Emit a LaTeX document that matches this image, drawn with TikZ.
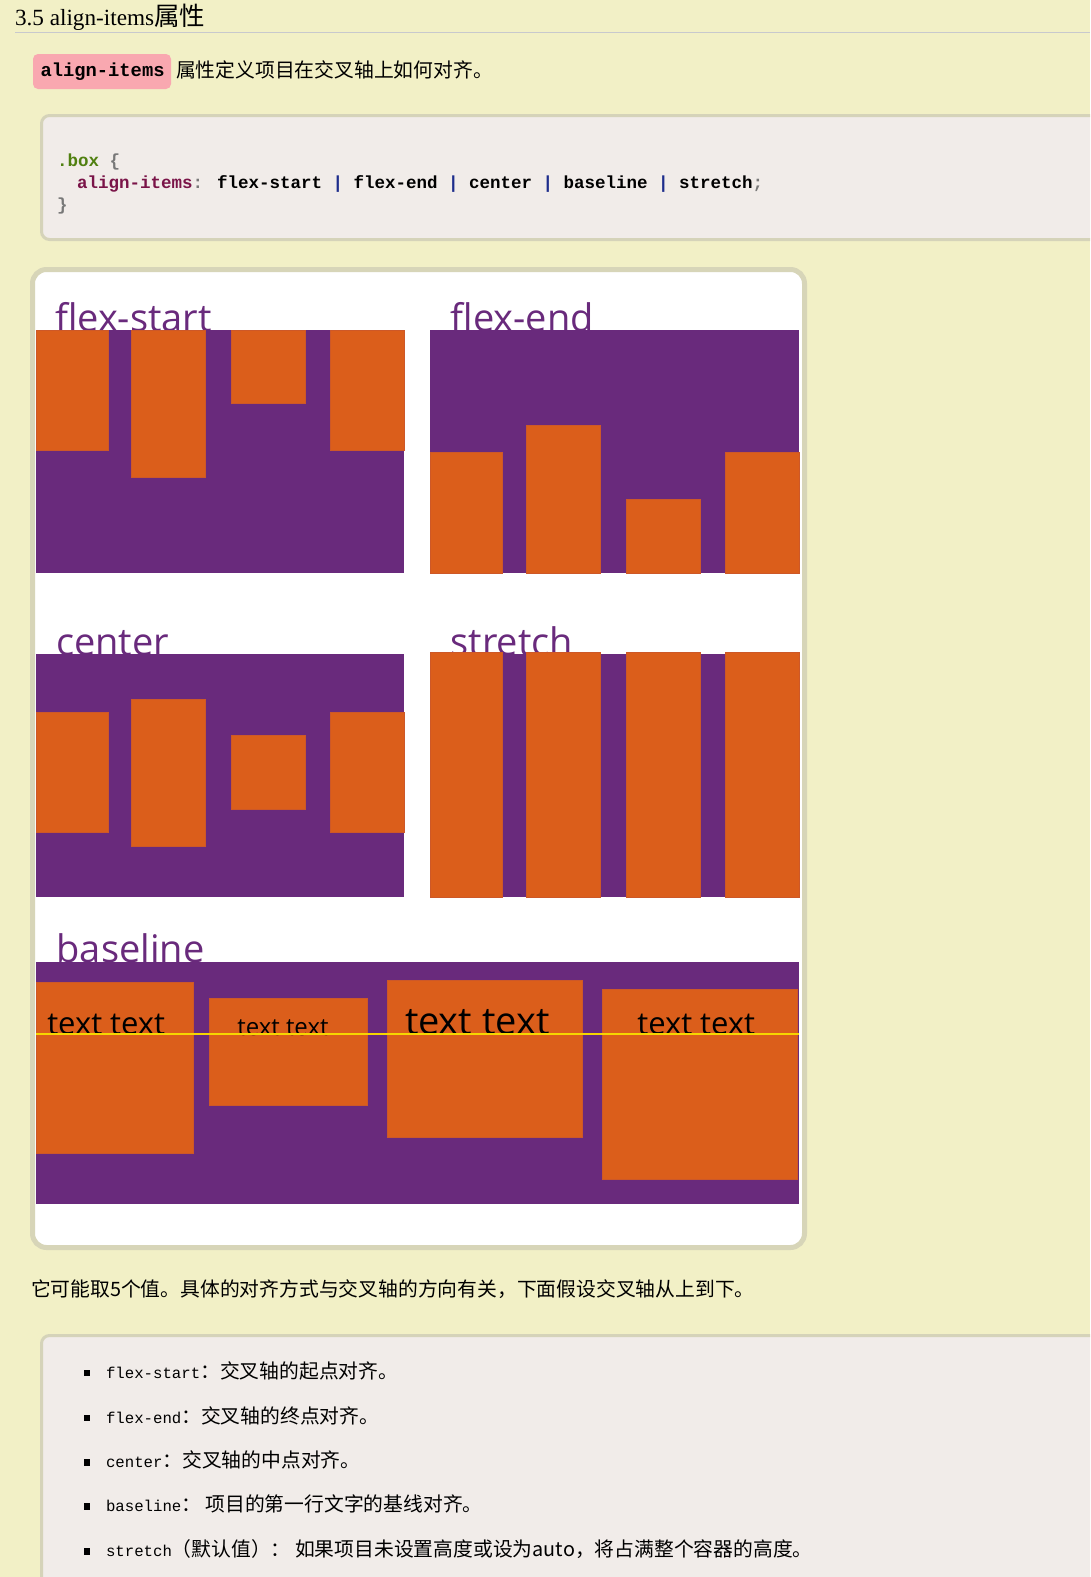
\documentclass[tikz,border=0pt]{standalone}
\usepackage{fontspec}
\setmainfont{Liberation Serif}
\newfontfamily\cjk{Noto Sans CJK SC}
\newfontfamily\lblf{Open Sans}
\newfontfamily\monof{Liberation Mono}
\definecolor{bg}{RGB}{242,240,198}
\definecolor{hline}{RGB}{200,201,205}
\definecolor{badge}{RGB}{249,168,176}
\definecolor{codefill}{RGB}{241,236,233}
\definecolor{codeborder}{RGB}{213,211,185}
\definecolor{panelborder}{RGB}{215,213,184}
\definecolor{fpurple}{RGB}{105,42,124}
\definecolor{forange}{RGB}{219,94,27}
\definecolor{oedge}{RGB}{205,88,40}
\definecolor{ylw}{RGB}{246,214,0}
\definecolor{cgreen}{RGB}{80,128,16}
\definecolor{cmag}{RGB}{122,20,72}
\definecolor{cblue}{RGB}{30,45,140}
\definecolor{cgray}{RGB}{120,120,120}
\tikzset{
  txt/.style={inner sep=0pt, outer sep=0pt, anchor=base west},
  cont/.style={fill=fpurple},
  item/.style={fill=forange, draw=oedge, line width=0.6pt},
  lbl/.style={txt, text=fpurple, font=\lblf\fontsize{38}{44}\selectfont},
  bullet/.style={fill=black},
}
\begin{document}
\begin{tikzpicture}[x=1pt,y=-1pt]
\useasboundingbox (0,0) rectangle (1090,1577);
\clip (0,0) rectangle (1090,1577);
\fill[bg] (0,0) rectangle (1090,1577);

% header
\node[txt] (title) at (15,25) {\fontsize{23.2}{27}\selectfont 3.5 align-items{\cjk\fontsize{25.5}{28}\selectfont 属性}};
\draw[hline, line width=1pt] (15,32.5) -- (1090,32.5);

% intro line
\fill[badge, rounded corners=5pt] (33,54) rectangle (171,89);
\node[txt] (badgetxt) at (40.5,76) {\monof\bfseries\fontsize{18.8}{22}\selectfont align-items};
\node[txt] (intro) at (176,77) {\cjk\fontsize{19.8}{22}\selectfont 属性定义项目在交叉轴上如何对齐。};

% code block
\draw[codeborder, fill=codefill, line width=3pt, rounded corners=8pt] (41.5,115.5) rectangle (1120,239.5);
\node[txt] (code1) at (57,166) {\monof\bfseries\fontsize{17.5}{22}\selectfont\textcolor{cgreen}{.box} \textcolor{cgray}{\{}};
\node[txt] (code2) at (77,188) {\monof\bfseries\fontsize{17.5}{22}\selectfont\textcolor{cmag}{align-items}\textcolor{cgray}{:} flex-start \textcolor{cblue}{|} flex-end \textcolor{cblue}{|} center \textcolor{cblue}{|} baseline \textcolor{cblue}{|} stretch\textcolor{cgray}{;}};
\node[txt] (code3) at (57,210) {\monof\bfseries\fontsize{17.5}{22}\selectfont\textcolor{cgray}{\}}};

% illustration panel
\draw[panelborder, fill=white, line width=5pt, rounded corners=14pt] (32.5,269.5) rectangle (804.5,1247.5);

% flex-start
\node[lbl] (lfs) at (55,331) {flex-start};
\fill[cont] (36,330) rectangle (404,573);
\draw[item] (36,330) rectangle (108,450);
\draw[item] (131.7,330) rectangle (205,477);
\draw[item] (231.7,330) rectangle (305,403);
\draw[item] (330.7,330) rectangle (404,450);

% flex-end
\node[lbl] (lfe) at (450.7,331) {flex-end};
\fill[cont] (430,330) rectangle (799.3,573);
\draw[item] (430,452.7) rectangle (502.7,573);
\draw[item] (526.7,425.3) rectangle (600,573);
\draw[item] (626.7,499.3) rectangle (700,573);
\draw[item] (725.7,452.7) rectangle (799.3,573);

% center
\node[lbl] (lce) at (56,655) {center};
\fill[cont] (36,654.3) rectangle (404,897);
\draw[item] (36,712.7) rectangle (108,832.3);
\draw[item] (131.7,699) rectangle (205,846);
\draw[item] (231.7,735.7) rectangle (305,809);
\draw[item] (330.7,712.7) rectangle (404,832.3);

% stretch
\node[lbl] (lst) at (450.7,655) {stretch};
\fill[cont] (430,654.3) rectangle (799.3,897);
\draw[item] (430,652.3) rectangle (502.7,897);
\draw[item] (526.7,652.3) rectangle (600,897);
\draw[item] (626.7,652.3) rectangle (700,897);
\draw[item] (725.7,652.3) rectangle (799.3,897);

% baseline
\node[lbl] (lba) at (56.7,962) {baseline};
\fill[cont] (36,961.7) rectangle (799,1204.3);
\draw[item] (36,982.7) rectangle (193.3,1153.3);
\draw[item] (209,998) rectangle (367,1105.3);
\draw[item] (387.3,980.3) rectangle (582.3,1137.3);
\draw[item] (602.3,989.3) rectangle (797.3,1179.3);
\node[txt] (t1) at (47.3,1034) {\lblf\fontsize{31}{36}\selectfont text text};
\node[txt] (t2) at (237.3,1035) {\lblf\fontsize{24}{28}\selectfont text text};
\node[txt] (t3) at (405,1034) {\lblf\fontsize{38}{44}\selectfont text text};
\node[txt] (t4) at (637.3,1034) {\lblf\fontsize{31}{36}\selectfont text text};
\draw[ylw, line width=2.2pt] (36,1033.8) -- (799,1033.8);

% paragraph
\node[txt] (para) at (31,1296) {\cjk\fontsize{19.8}{22}\selectfont 它可能取5个值。具体的对齐方式与交叉轴的方向有关，下面假设交叉轴从上到下。};

% bullet box
\draw[codeborder, fill=codefill, line width=3pt, rounded corners=8pt] (41.5,1335.5) rectangle (1120,1620);
\foreach \yy in {1373,1418,1462.7,1506.7,1551.7}{
  \fill[bullet] (83.5,\yy-3.3) rectangle (90,\yy+3.3);
}
\node[txt] (l1) at (106,1378) {\monof\fontsize{15.7}{20}\selectfont flex-start{\cjk\fontsize{19.8}{22}\selectfont ：交叉轴的起点对齐。}};
\node[txt] (l2) at (106,1423) {\monof\fontsize{15.7}{20}\selectfont flex-end{\cjk\fontsize{19.8}{22}\selectfont ：交叉轴的终点对齐。}};
\node[txt] (l3) at (106,1467.5) {\monof\fontsize{15.7}{20}\selectfont center{\cjk\fontsize{19.8}{22}\selectfont ：交叉轴的中点对齐。}};
\node[txt] (l4) at (106,1511.5) {\monof\fontsize{15.7}{20}\selectfont baseline{\cjk\fontsize{19.8}{22}\selectfont ：\ 项目的第一行文字的基线对齐。}};
\node[txt] (l5) at (106,1556.5) {\monof\fontsize{15.7}{20}\selectfont stretch{\cjk\fontsize{19.8}{22}\selectfont （默认值）：\ 如果项目未设置高度或设为auto，将占满整个容器的高度。}};
\end{tikzpicture}
\end{document}
